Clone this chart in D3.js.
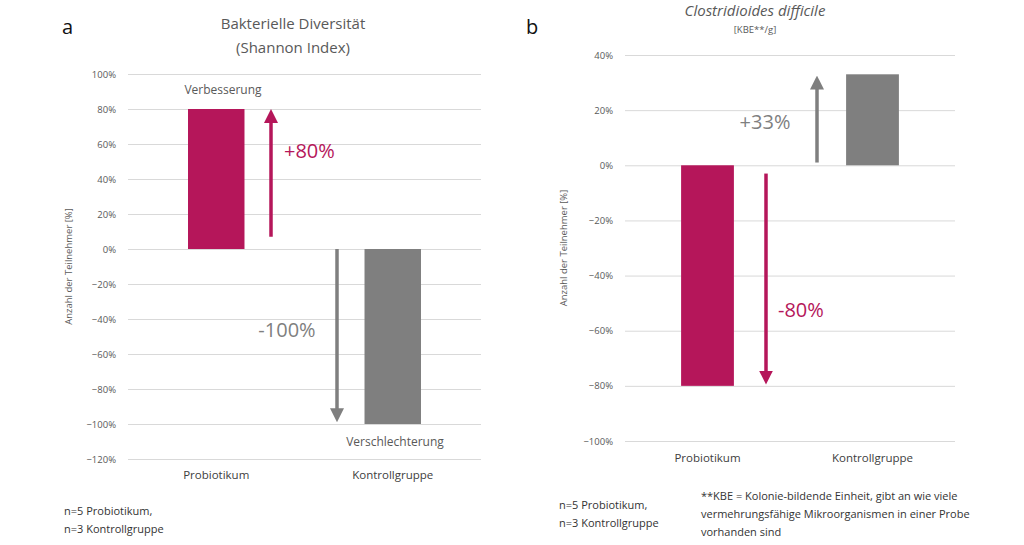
<!DOCTYPE html>
<html><head><meta charset="utf-8">
<script src="https://cdn.jsdelivr.net/npm/d3@7"></script>
<style>body{margin:0;background:#fff}text{font-family:"Open Sans",sans-serif}</style>
</head><body>
<svg id="c" width="1024" height="545"></svg>
<script>
// ─── Data ───
const categories = ["Probiotikum", "Kontrollgruppe"];
const diversityValues = [0.80, -1.00];
const diversityTicks = [1, 0.8, 0.6, 0.4, 0.2, 0, -0.2, -0.4, -0.6, -0.8, -1, -1.2];
const cdiffValues = [-0.80, 0.33];
const cdiffTicks = [0.4, 0.2, 0, -0.2, -0.4, -0.6, -0.8, -1];

const MAGENTA = "#b5165a", GREY = "#7f7f7f";
const svg = d3.select("#c");
const defs = svg.append("defs");
[["m", MAGENTA], ["g", GREY]].forEach(([id, c]) => {
  defs.append("marker").attr("id", "ah" + id).attr("viewBox", "0 0 10 10")
    .attr("refX", 5).attr("refY", 5).attr("markerWidth", 4).attr("markerHeight", 4)
    .attr("orient", "auto").append("path").attr("d", "M0,0L10,5L0,10z").attr("fill", c);
});

function panel(o) {
  const g = svg.append("g");
  const y = d3.scaleLinear().domain(o.domain).range(o.yRange);
  const x = d3.scaleBand().domain(categories).range(o.xRange).paddingInner(0.68).paddingOuter(0.34);
  const axis = d3.axisLeft(y).tickValues(o.ticks).tickSize(-(o.xRange[1] - o.xRange[0]))
    .tickFormat(d3.format(".0%"));
  const ag = g.append("g").attr("transform", `translate(${o.xRange[0]},0)`).call(axis);
  ag.select(".domain").remove();
  ag.selectAll("line").attr("stroke", "#d9d9d9");
  ag.selectAll("text").attr("fill", "#595959").attr("font-size", 9.5).attr("x", -12);

  g.selectAll("rect.bar").data(o.values).join("rect")
    .attr("x", (d, i) => x(categories[i])).attr("width", x.bandwidth())
    .attr("y", d => y(Math.max(0, d))).attr("height", d => Math.abs(y(d) - y(0)))
    .attr("fill", (d, i) => i === 0 ? MAGENTA : GREY);

  g.selectAll("text.cat").data(categories).join("text")
    .attr("x", d => x(d) + x.bandwidth() / 2).attr("y", o.catY).attr("text-anchor", "middle")
    .attr("font-size", 11.5).attr("fill", "#404040").text(d => d);

  g.append("text").attr("transform", `translate(${o.yTitleX},${(o.yRange[0] + o.yRange[1]) / 2}) rotate(-90)`)
    .attr("text-anchor", "middle").attr("font-size", 9.5).attr("fill", "#595959")
    .text("Anzahl der Teilnehmer [%]");
  return { g, x, y };
}

// ─── Panel a ───
const a = panel({ domain: [1, -1.2], yRange: [74, 459], xRange: [128, 481],
  ticks: diversityTicks, values: diversityValues, catY: 479, yTitleX: 72 });
a.g.append("line").attr("x1", 271).attr("x2", 271).attr("y1", a.y(0.07)).attr("y2", a.y(0.76))
  .attr("stroke", MAGENTA).attr("stroke-width", 3.5).attr("marker-end", "url(#ahm)");
a.g.append("line").attr("x1", 337).attr("x2", 337).attr("y1", a.y(0)).attr("y2", a.y(-0.95))
  .attr("stroke", GREY).attr("stroke-width", 3.5).attr("marker-end", "url(#ahg)");
a.g.append("text").attr("x", 284).attr("y", a.y(0.52)).attr("font-size", 20).attr("fill", MAGENTA).text("+80%");
a.g.append("text").attr("x", 287).attr("y", a.y(-0.5)).attr("text-anchor", "middle").attr("font-size", 20).attr("fill", GREY).text("-100%");
a.g.append("text").attr("x", 223).attr("y", 94).attr("text-anchor", "middle").attr("font-size", 12).attr("fill", "#595959").text("Verbesserung");
a.g.append("text").attr("x", 395).attr("y", 446).attr("text-anchor", "middle").attr("font-size", 12).attr("fill", "#595959").text("Verschlechterung");
svg.append("text").attr("x", 293).attr("y", 29).attr("text-anchor", "middle").attr("font-size", 15).attr("fill", "#595959").text("Bakterielle Diversität");
svg.append("text").attr("x", 293).attr("y", 53).attr("text-anchor", "middle").attr("font-size", 15).attr("fill", "#595959").text("(Shannon Index)");
svg.append("text").attr("x", 62).attr("y", 34).attr("font-size", 20).attr("fill", "#111").text("a");
svg.append("text").attr("x", 64).attr("y", 515).attr("font-size", 11).attr("fill", "#333").text("n=5 Probiotikum,");
svg.append("text").attr("x", 64).attr("y", 533).attr("font-size", 11).attr("fill", "#333").text("n=3 Kontrollgruppe");

// ─── Panel b ───
const b = panel({ domain: [0.4, -1], yRange: [55, 441], xRange: [625, 955],
  ticks: cdiffTicks, values: cdiffValues, catY: 462, yTitleX: 567 });
b.g.append("line").attr("x1", 766).attr("x2", 766).attr("y1", b.y(-0.03)).attr("y2", b.y(-0.77))
  .attr("stroke", MAGENTA).attr("stroke-width", 3.5).attr("marker-end", "url(#ahm)");
b.g.append("line").attr("x1", 817).attr("x2", 817).attr("y1", b.y(0.01)).attr("y2", b.y(0.30))
  .attr("stroke", GREY).attr("stroke-width", 3.5).attr("marker-end", "url(#ahg)");
b.g.append("text").attr("x", 765).attr("y", b.y(0.13)).attr("text-anchor", "middle").attr("font-size", 20).attr("fill", GREY).text("+33%");
b.g.append("text").attr("x", 778).attr("y", b.y(-0.55)).attr("font-size", 20).attr("fill", MAGENTA).text("-80%");
svg.append("text").attr("x", 755).attr("y", 16).attr("text-anchor", "middle").attr("font-size", 15).attr("font-style", "italic").attr("fill", "#595959").text("Clostridioides difficile");
svg.append("text").attr("x", 755).attr("y", 33).attr("text-anchor", "middle").attr("font-size", 9.5).attr("fill", "#595959").text("[KBE**/g]");
svg.append("text").attr("x", 526).attr("y", 34).attr("font-size", 20).attr("fill", "#111").text("b");
svg.append("text").attr("x", 559).attr("y", 509).attr("font-size", 11).attr("fill", "#333").text("n=5 Probiotikum,");
svg.append("text").attr("x", 559).attr("y", 527).attr("font-size", 11).attr("fill", "#333").text("n=3 Kontrollgruppe");
["**KBE = Kolonie-bildende Einheit, gibt an wie viele",
 "vermehrungsfähige Mikroorganismen in einer Probe",
 "vorhanden sind"].forEach((t, i) =>
  svg.append("text").attr("x", 701).attr("y", 500 + i * 18).attr("font-size", 11).attr("fill", "#333").text(t));
</script>
</body></html>
